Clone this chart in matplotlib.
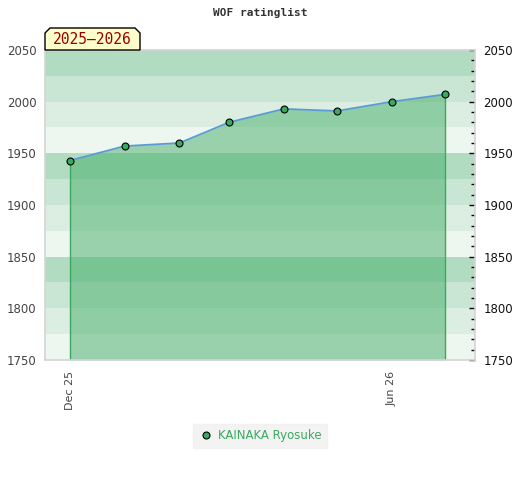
import matplotlib
matplotlib.use("Agg")
import matplotlib.pyplot as plt
from matplotlib.lines import Line2D
from matplotlib.patches import Polygon
import numpy as np
import datetime as dt

# ─── Dados ───────────────────────────────────────────────────────────────────
datas = ["2025-12-01", "2026-01-01", "2026-02-01", "2026-03-01",
         "2026-04-01", "2026-05-01", "2026-06-01", "2026-07-01"]
ratings = [1943, 1957, 1960, 1980, 1993, 1991, 2000, 2007]
jogador = "KAINAKA Ryosuke"
titulo = "WOF ratinglist"
temporada = "2025\u20132026"
y_min, y_max = 1750, 2050
x_ini, x_fim = "2025-11-17", "2026-07-18"
tick_datas = ["2025-12-01", "2026-06-01"]
tick_labels = ["Dec 25", "Jun 26"]

FAIXAS = ["#b2dcc2", "#c9e6d4", "#dcede2", "#eef6f0"]
VERDE = "#3aa960"
LINHA = "#5b9bd5"


def data(s):
    return dt.datetime.strptime(s, "%Y-%m-%d")


x = [data(d) for d in datas]

fig = plt.figure(figsize=(5.2, 4.8), dpi=100)
ax = fig.add_axes([45 / 520, 1 - 360 / 480, 430 / 520, 310 / 480])

# faixas horizontais de fundo
for i, topo in enumerate(range(y_max, y_min, -25)):
    ax.axhspan(topo - 25, topo, color=FAIXAS[i % 4], lw=0, zorder=0)

ax.fill_between(x, ratings, y_min, color=VERDE, alpha=0.47, lw=0, zorder=1)
ax.vlines([x[0], x[-1]], y_min, [ratings[0], ratings[-1]], color=VERDE, lw=1, zorder=2)
ax.plot(x, ratings, color=LINHA, lw=1.3, zorder=3)
ax.plot(x, ratings, "o", ms=5, mfc=VERDE, mec="black", mew=0.8, zorder=4)

ax.set_ylim(y_min, y_max)
ax.set_xlim(data(x_ini), data(x_fim))

ax.set_xticks([data(d) for d in tick_datas])
ax.set_xticklabels(tick_labels, rotation=90, fontsize=8, color="#444444")
ax.tick_params(axis="x", length=0, pad=8)

ax.set_yticks(np.arange(y_min, y_max + 1, 50))
ax.set_yticks(np.arange(y_min, y_max + 1, 10), minor=True)
ax.tick_params(axis="y", which="both", left=False, right=True, labelleft=True,
               labelright=True, direction="in", labelsize=8.5, pad=6, color="black")
ax.tick_params(axis="y", which="major", length=4, width=1)
ax.tick_params(axis="y", which="minor", length=3, width=1)
for t in ax.yaxis.get_majorticklabels():
    t.set_color("#444444")
for t in ax.yaxis.get_ticklabels(which="major"):
    pass
for tick in ax.yaxis.get_major_ticks():
    tick.label2.set_color("#111111")

for sp in ax.spines.values():
    sp.set_color("#d4d4d4")
    sp.set_linewidth(1.2)

# título
fig.text(0.5, 1 - 13 / 480, titulo, ha="center", va="center",
         family="DejaVu Sans Mono", fontweight="bold", fontsize=8, color="#333333")

# caixa da temporada
x0, x1 = 45 / 520, 140 / 520
y0, y1 = 1 - 50 / 480, 1 - 28 / 480
cx, cy = 5 / 520, 5 / 480
caixa = Polygon([(x0, y0), (x0, y1 - cy), (x0 + cx, y1), (x1 - cx, y1),
                 (x1, y1 - cy), (x1, y0)], closed=True, transform=fig.transFigure,
                facecolor="#ffffcc", edgecolor="black", lw=1, zorder=5)
fig.patches.append(caixa)
fig.text((x0 + x1) / 2, (y0 + y1) / 2 - 1 / 480, temporada, ha="center", va="center",
         family="DejaVu Sans Mono", fontsize=10.5, color="#990000", zorder=6)

# legenda
h = Line2D([], [], ls="", marker="o", ms=5, mfc=VERDE, mec="black", mew=0.8)
leg = fig.legend([h], [jogador], loc="center", bbox_to_anchor=(260 / 520, 1 - 436 / 480),
                 frameon=True, fancybox=False, facecolor="#f0f0f0", edgecolor="#f0f0f0",
                 fontsize=8.5, handletextpad=0.4, borderpad=0.5, handlelength=1.2)
for t in leg.get_texts():
    t.set_color(VERDE)

fig.savefig("out.png", dpi=100)
